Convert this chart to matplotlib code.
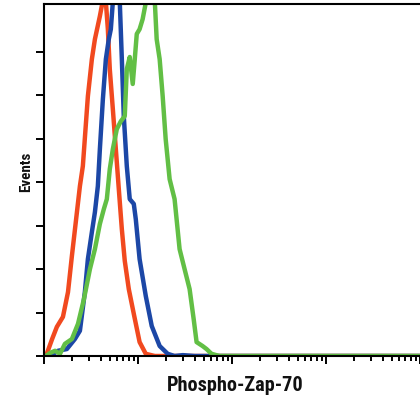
import matplotlib
matplotlib.use("Agg")
import matplotlib.pyplot as plt
from matplotlib.ticker import LogLocator, NullFormatter

# Data (fluorescence intensity, event counts)
red_x = [1.0, 1.05, 1.22, 1.37, 1.59, 1.80, 1.98, 2.24, 2.41, 2.59, 2.93, 3.23, 3.48, 3.93, 4.33, 4.55,
         4.78, 5.01, 5.40, 5.81, 6.25, 6.73, 7.23, 7.98, 9.02, 10.4, 12.1, 15.1, 10000]
red_y = [0, 0, 39, 67, 90, 147, 230, 331, 391, 437, 598, 683, 729, 782, 830, 815,
         752, 660, 568, 476, 384, 292, 219, 154, 97, 32, 5, 0, 0]

blue_x = [1.0, 1.16, 1.41, 1.75, 2.13, 2.41, 2.72, 2.93, 3.23, 3.48, 3.74, 3.93, 4.23, 4.55, 4.89, 5.14,
          5.40, 5.95, 6.40, 6.73, 7.06, 7.60, 8.17, 9.02, 9.47, 10.4, 12.1, 14.0, 17.0, 20.7, 24.5,
          30.0, 40.0, 10000]
blue_y = [0, 0, 12, 16, 39, 58, 147, 223, 285, 331, 391, 476, 591, 683, 729, 752,
          815, 825, 815, 683, 552, 437, 361, 350, 315, 223, 138, 69, 23, 5, 0,
          2, 0, 0]

green_x = [1.0, 1.05, 1.16, 1.31, 1.48, 1.67, 1.98, 2.30, 2.66, 3.08, 3.48, 3.93, 4.33, 4.66, 5.01, 5.40,
           5.95, 6.56, 7.23, 7.60, 8.17, 8.79, 9.24, 9.70, 10.4, 11.2, 12.4, 14.0, 15.1, 15.8, 17.0,
           18.3, 19.7, 21.7, 24.5, 27.7, 31.3, 35.4, 39.1, 42.0, 48.6, 53.6, 60.6, 73.6, 10000]
green_y = [0, 0, 7, 12, 5, 28, 39, 74, 131, 200, 246, 304, 338, 361, 430, 476,
           522, 540, 552, 660, 688, 626, 683, 741, 752, 775, 825, 830, 815, 729, 683,
           598, 499, 407, 361, 246, 200, 154, 85, 32, 23, 16, 5, 0, 0]

y_ticks = [0, 100, 200, 300, 400, 500, 600, 700]

fig = plt.figure(figsize=(4.2, 4.02), dpi=100)
ax = fig.add_axes([44/420, 45/402, 1 - 44/420, 352/402])

lw = 3.2
ax.plot(red_x, red_y, color="#f1491f", lw=lw, solid_joinstyle="round")
ax.plot(blue_x, blue_y, color="#1c47a6", lw=lw, solid_joinstyle="round")
ax.plot(green_x, green_y, color="#62bf45", lw=lw, solid_joinstyle="round")

ax.set_xscale("log")
ax.set_xlim(1, 10000)
ax.set_ylim(0, 810)
ax.set_yticks(y_ticks)
ax.set_yticklabels([])
ax.xaxis.set_major_locator(LogLocator(base=10, numticks=10))
ax.xaxis.set_minor_locator(LogLocator(base=10, subs=range(2, 10), numticks=20))
ax.xaxis.set_major_formatter(NullFormatter())
ax.xaxis.set_minor_formatter(NullFormatter())

ax.spines["right"].set_visible(False)
for s in ["left", "bottom", "top"]:
    ax.spines[s].set_linewidth(1.5)
ax.tick_params(axis="both", which="major", direction="out", length=5.8, width=1.4, color="black")
ax.tick_params(axis="x", which="minor", direction="out", length=3.6, width=1.4, color="black")
ax.tick_params(top=False, right=False)

font = ["Roboto Condensed", "Asap Condensed", "DejaVu Sans"]
fig.text(235/420, 1 - 391/402, "Phospho-Zap-70", ha="center", va="baseline",
         fontsize=14.6, fontweight="bold", family=font, color="#111111")
fig.text(30/420, 1 - 171.5/402, "Events", ha="center", va="baseline", rotation=90,
         rotation_mode="anchor", fontsize=10.8, fontweight="bold", family=font, color="#111111")

fig.savefig("out.png", dpi=100)
